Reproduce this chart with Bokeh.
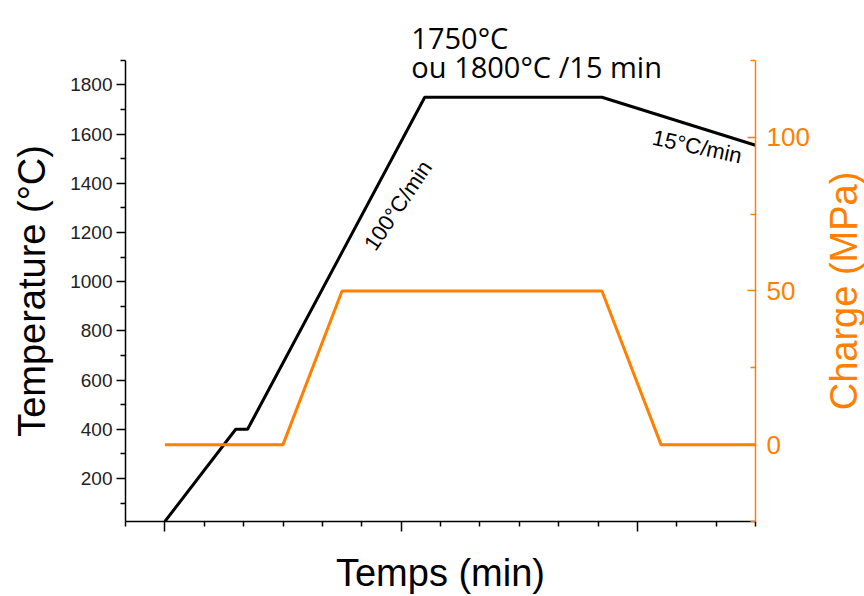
from bokeh.plotting import figure
from bokeh.layouts import row
from bokeh.models import Range1d, LinearAxis, FixedTicker, Label, CustomJSTickFormatter
from bokeh.embed import file_html
from bokeh.resources import INLINE

# ---- data ----
time_temp = [0, 9.0, 10.5, 33.0, 55.5, 75]
temperature = [25, 400, 400, 1750, 1750, 1555]
time_load = [0, 15.0, 22.5, 55.5, 63.0, 75]
load = [0, 0, 50, 50, 0, 0]

temp_ticks = [200, 400, 600, 800, 1000, 1200, 1400, 1600, 1800]
temp_minor = [100, 300, 500, 700, 900, 1100, 1300, 1500, 1700, 1900]
load_ticks = [0, 50, 100]
load_minor = [-25, 25, 75, 125]
time_ticks = [0, 30, 60]
time_minor = [-5, 5, 10, 15, 20, 25, 35, 40, 45, 50, 55, 65, 70, 75]

TEMP_AXIS = (25, 1900)
LOAD_AXIS = (-25, 125)

ORANGE = "#FF8000"
AXFONT = "Liberation Sans"

H = 596
LEFT_W = 55
RIGHT_W = 44
MAIN_W = 864 - LEFT_W - RIGHT_W

# frame extends to the top of the canvas so the annotations above the axes are not clipped;
# axis bounds keep the drawn axes at their original extent
TOP_PX = 60
FRAME_H = 522
t_scale = (FRAME_H - TOP_PX) / (TEMP_AXIS[1] - TEMP_AXIS[0])
l_scale = (FRAME_H - TOP_PX) / (LOAD_AXIS[1] - LOAD_AXIS[0])

p = figure(width=MAIN_W, height=H, title=None,
           x_range=Range1d(-5, 75),
           y_range=Range1d(TEMP_AXIS[0], TEMP_AXIS[1] + TOP_PX / t_scale),
           output_backend="svg", toolbar_location=None,
           min_border_left=125 - LEFT_W, min_border_right=(864 - RIGHT_W) - 755,
           min_border_top=0, min_border_bottom=H - FRAME_H)
p.outline_line_color = None
p.xgrid.visible = False
p.ygrid.visible = False
p.extra_y_ranges = {"load": Range1d(LOAD_AXIS[0], LOAD_AXIS[1] + TOP_PX / l_scale)}

# left axis
ya = p.yaxis[0]
ya.bounds = TEMP_AXIS
ya.ticker = FixedTicker(ticks=temp_ticks, minor_ticks=temp_minor)
ya.axis_line_width = 1.5
ya.major_tick_line_width = 1.5
ya.minor_tick_line_width = 1.5
ya.major_tick_in = 0
ya.major_tick_out = 9
ya.minor_tick_in = 0
ya.minor_tick_out = 5
ya.major_label_standoff = 4
ya.major_label_text_font = AXFONT
ya.major_label_text_font_size = "19px"
ya.major_label_text_color = "#222222"

# bottom axis
xa = p.xaxis[0]
xa.ticker = FixedTicker(ticks=time_ticks, minor_ticks=time_minor)
xa.formatter = CustomJSTickFormatter(code="return ''")
xa.axis_line_width = 1.5
xa.major_tick_line_width = 1.5
xa.minor_tick_line_width = 1.5
xa.major_tick_in = 0
xa.major_tick_out = 10
xa.minor_tick_in = 0
xa.minor_tick_out = 5
xa.major_label_text_font_size = "1px"
xa.major_label_standoff = 0
xa.axis_label = "Temps (min)"
xa.axis_label_text_font = AXFONT
xa.axis_label_text_font_size = "38px"
xa.axis_label_text_font_style = "normal"
xa.axis_label_text_color = "black"
xa.axis_label_standoff = 20

# right axis
ra = LinearAxis(y_range_name="load", bounds=LOAD_AXIS,
                ticker=FixedTicker(ticks=load_ticks, minor_ticks=load_minor))
ra.axis_line_color = ORANGE
ra.major_tick_line_color = ORANGE
ra.minor_tick_line_color = ORANGE
ra.axis_line_width = 1.5
ra.major_tick_line_width = 1.5
ra.minor_tick_line_width = 1.5
ra.major_tick_in = 8
ra.major_tick_out = 0
ra.minor_tick_in = 5
ra.minor_tick_out = 0
ra.major_label_standoff = 11
ra.major_label_text_font = AXFONT
ra.major_label_text_font_size = "26px"
ra.major_label_text_color = ORANGE
p.add_layout(ra, "right")

# series
p.line(time_temp, temperature, line_color="black", line_width=3)
p.line(time_load, load, y_range_name="load", line_color=ORANGE, line_width=3)

# annotations
p.add_layout(Label(x=31.3, y=1993, text="1750°C", text_font="Open Sans", text_font_size="29px",
                   text_align="left", text_baseline="alphabetic", text_color="black"))
p.add_layout(Label(x=31.3, y=1876, text="ou 1800°C /15 min", text_font="Open Sans", text_font_size="29px",
                   text_align="left", text_baseline="alphabetic", text_color="black"))
p.add_layout(Label(x=29.6, y=1310, text="100°C/min", angle=56, angle_units="deg",
                   text_font=AXFONT, text_font_size="22px", text_align="center",
                   text_baseline="middle", text_color="black"))
p.add_layout(Label(x=67.6, y=1549, text="15°C/min", angle=-12, angle_units="deg",
                   text_font=AXFONT, text_font_size="22px", text_align="center",
                   text_baseline="middle", text_color="black"))


# vertical axis titles in narrow side panels (both read bottom to top, centred on the axes);
# the side panels use the same frame rows (0..FRAME_H) as the main plot
def side_title(width, text, color, cx):
    f = figure(width=width, height=H, x_range=Range1d(0, width), y_range=Range1d(0, FRAME_H),
               x_axis_location=None, y_axis_location=None, title=None,
               output_backend="svg", toolbar_location=None,
               min_border_left=0, min_border_right=0, min_border_top=0,
               min_border_bottom=H - FRAME_H)
    f.outline_line_color = None
    f.xgrid.visible = False
    f.ygrid.visible = False
    f.add_layout(Label(x=cx, y=FRAME_H - (TOP_PX + FRAME_H) / 2, text=text, angle=90, angle_units="deg",
                       text_font=AXFONT, text_font_size="38px", text_align="center",
                       text_baseline="middle", text_color=color))
    return f


left = side_title(LEFT_W, "Temperature (°C)", "black", 31)
right = side_title(RIGHT_W, "Charge (MPa)", ORANGE, 843 - (864 - RIGHT_W))

layout = row(left, p, right, spacing=0)
open("out.html", "w").write(file_html(layout, INLINE))
